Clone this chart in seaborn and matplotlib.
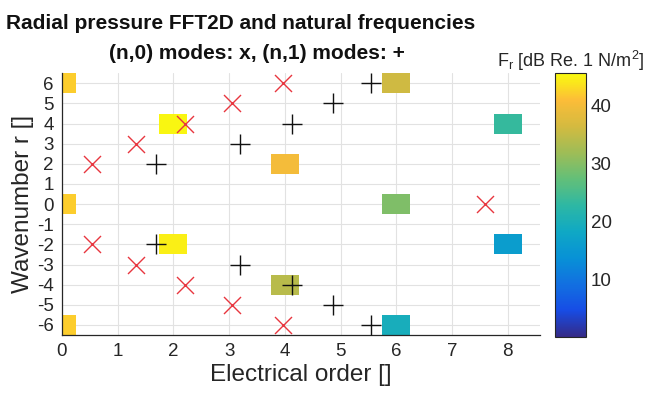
import numpy as np
import pandas as pd
import matplotlib
matplotlib.use("Agg")
import matplotlib.pyplot as plt
import seaborn as sns
from matplotlib.colors import LinearSegmentedColormap

# ---------------- data ----------------
cell_order = [0, 0, 0, 2, 2, 4, 4, 6, 6, 6, 8, 8]
cell_wave = [6, 0, -6, 4, -2, 2, -4, 6, 0, -6, 4, -2]
cell_db = [42, 42, 42, 45, 44.5, 40, 34, 36, 29.5, 19.5, 23.5, 16]

mode0_order = [3.96, 3.06, 2.20, 1.32, 0.53, 7.60, 0.53, 1.32, 2.20, 3.06, 3.96]
mode0_wave = [6, 5, 4, 3, 2, 0, -2, -3, -4, -5, -6]

mode1_order = [5.55, 4.86, 4.13, 3.19, 1.68, 1.68, 3.19, 4.13, 4.86, 5.55]
mode1_wave = [6, 5, 4, 3, 2, -2, -3, -4, -5, -6]

x_ticks = [0, 1, 2, 3, 4, 5, 6, 7, 8]
y_ticks = [-6, -5, -4, -3, -2, -1, 0, 1, 2, 3, 4, 5, 6]
cbar_ticks = [10, 20, 30, 40]

# ---------------- style ----------------
sns.set_theme(style="white")
plt.rcParams['font.family'] = ['Liberation Sans', 'DejaVu Sans']
plt.rcParams['mathtext.fontset'] = 'custom'
plt.rcParams['mathtext.rm'] = 'Liberation Sans'

parula = LinearSegmentedColormap.from_list("parula", [
    (0.00, (0.208, 0.166, 0.529)),
    (0.10, (0.090, 0.300, 0.900)),
    (0.20, (0.070, 0.440, 0.880)),
    (0.30, (0.030, 0.570, 0.840)),
    (0.40, (0.060, 0.660, 0.770)),
    (0.50, (0.180, 0.720, 0.640)),
    (0.60, (0.390, 0.750, 0.470)),
    (0.70, (0.620, 0.740, 0.340)),
    (0.80, (0.830, 0.730, 0.250)),
    (0.90, (0.990, 0.740, 0.220)),
    (1.00, (0.976, 0.984, 0.055)),
])
vmin, vmax = 0.2, 45.5

fig = plt.figure(figsize=(6.58, 4.07), dpi=100)
ax = fig.add_axes([0.0942, 0.177, 0.7265, 0.643])
cax = fig.add_axes([0.8435, 0.172, 0.047, 0.648])

# grid of cells (width 0.5, height 1)
orders = sorted(set(cell_order))
xedges = []
for o in orders:
    xedges += [o - 0.25, o + 0.25]
xedges = np.array(xedges)
yedges = np.arange(min(y_ticks) - 0.5, max(y_ticks) + 1.0, 1.0)
Z = np.full((len(yedges) - 1, len(xedges) - 1), np.nan)
for o, w, v in zip(cell_order, cell_wave, cell_db):
    Z[w - min(y_ticks), 2 * orders.index(o)] = v
Zm = np.ma.masked_invalid(Z)
mesh = ax.pcolormesh(xedges, yedges, Zm, cmap=parula, vmin=vmin, vmax=vmax, zorder=1)

df0 = pd.DataFrame({"order": mode0_order, "wave": mode0_wave})
df1 = pd.DataFrame({"order": mode1_order, "wave": mode1_wave})
sns.scatterplot(data=df0, x="order", y="wave", marker="x", s=150, color="#e8363f",
                linewidth=1.0, ax=ax, zorder=4)
sns.scatterplot(data=df1, x="order", y="wave", marker="+", s=200, color="#111111",
                linewidth=1.0, ax=ax, zorder=4)

ax.set_xlim(0, 8.58)
ax.set_ylim(-6.5, 6.5)
ax.set_xticks(x_ticks)
ax.set_yticks(y_ticks)
ax.set_xticklabels([str(t) for t in x_ticks], fontsize=13.5, color="#262626")
ax.set_yticklabels([str(t) for t in y_ticks], fontsize=13.5, color="#262626")
ax.tick_params(direction="in", length=4, width=0.8, color="#262626", pad=6)
ax.grid(True, color="#e2e2e2", linewidth=0.8, zorder=0)
ax.set_axisbelow(True)
for s in ["top", "right"]:
    ax.spines[s].set_visible(False)
for s in ["left", "bottom"]:
    ax.spines[s].set_color("#262626")
    ax.spines[s].set_linewidth(0.9)
ax.set_xlabel("Electrical order []", fontsize=17.5, color="#262626", labelpad=3)
ax.set_ylabel("Wavenumber r []", fontsize=17.5, color="#262626", labelpad=2)

cb = fig.colorbar(mesh, cax=cax, ticks=cbar_ticks)
cb.ax.tick_params(labelsize=13.5, direction="in", length=3, colors="#262626")
cb.outline.set_edgecolor("#262626")
cb.outline.set_linewidth(0.8)

fig.text(0.365, 0.943, "Radial pressure FFT2D and natural frequencies", ha="center", va="center",
         fontsize=15, fontweight="bold", color="#111111")
fig.text(0.39, 0.868, "(n,0) modes: x, (n,1) modes: +", ha="center", va="center",
         fontsize=15, fontweight="bold", color="#111111")
fig.text(0.755, 0.85, r"F$_\mathrm{r}$ [dB Re. 1 N/m$^2$]", ha="left", va="center",
         fontsize=13, color="#262626")

fig.savefig("out.png", dpi=100)
